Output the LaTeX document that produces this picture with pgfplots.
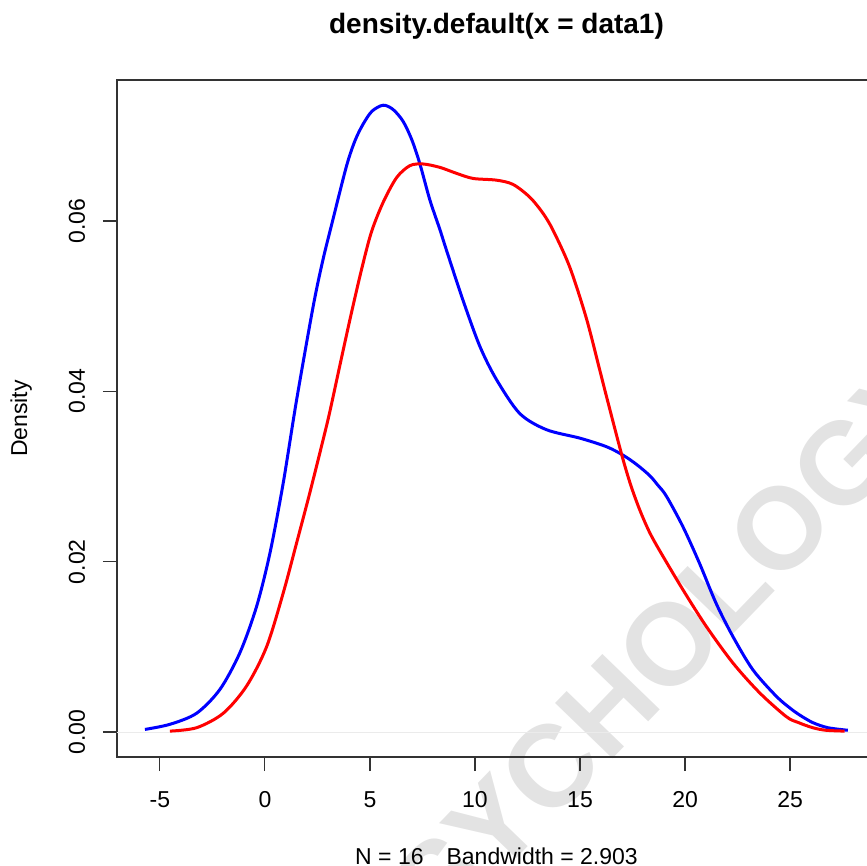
\documentclass[border=0pt]{standalone}
\usepackage{pgfplots}
\pgfplotsset{compat=1.18}
\usepackage{fontspec}
\setmainfont{Liberation Sans}
\begin{document}
\begin{tikzpicture}
% watermark (behind the plot)
\node[rotate=46, text=black!11, font=\fontsize{58}{58}\selectfont\bfseries] at (322pt,-335pt) {PSYCHOLOGY};
\begin{axis}[
  at={(58.5pt,-378.5pt)}, anchor=south west,
  scale only axis, width=379.5pt, height=338.5pt,
  xmin=-7.04, xmax=29.09, ymin=-0.00294, ymax=0.07656,
  xtick={-5,0,5,10,15,20,25}, ytick={0,0.02,0.04,0.06},
  tick align=outside, tick pos=left, major tick length=7pt,
  axis line style={black!80, line width=0.6pt},
  tick style={black!80, line width=0.6pt},
  /pgf/number format/assume math mode=true,
  tick label style={font=\fontsize{11.5}{13}\selectfont},
  scaled y ticks=false,
  xticklabel style={anchor=base, yshift=-18pt},
  yticklabel style={rotate=90, anchor=base, yshift=9pt,
    /pgf/number format/fixed, /pgf/number format/fixed zerofill,
    /pgf/number format/precision=2},
  clip=true,
]
\addplot[black!8, line width=0.3pt] coordinates {(-7.04,0) (29.09,0)};
% blue: density of data1
\addplot[blue, line width=1.5pt, smooth] coordinates {
(-5.71,0.0003) (-4.52,0.0009) (-3.25,0.0022) (-2.14,0.0050) (-1.19,0.0093)
(-0.40,0.0147) (0.24,0.0210) (0.87,0.0292) (1.51,0.0390) (2.30,0.0500)
(2.75,0.0553) (3.19,0.0597) (3.89,0.0665) (4.30,0.0695) (4.68,0.0714)
(5.10,0.0729) (5.63,0.0736) (6.10,0.0731) (6.58,0.0717) (7.00,0.0695)
(7.38,0.0667) (7.85,0.0625) (8.33,0.0590) (8.64,0.0566) (9.43,0.0507)
(10.23,0.0453) (11.02,0.0414) (12.13,0.0374) (13.40,0.0355) (15.00,0.0345)
(16.26,0.0335) (17.05,0.0325) (17.70,0.0314) (18.32,0.0301) (18.70,0.0290)
(19.11,0.0277) (19.90,0.0241) (20.69,0.0198) (21.48,0.0151) (22.28,0.0112)
(23.23,0.0073) (24.34,0.0042) (25.00,0.0028) (25.45,0.0020) (26.08,0.0011)
(26.80,0.0005) (27.75,0.0002)
};
% red: second density
\addplot[red, line width=1.5pt, smooth] coordinates {
(-4.52,0.0001) (-3.25,0.0005) (-1.98,0.0022) (-0.87,0.0054) (0.08,0.0100)
(0.87,0.0163) (1.51,0.0222) (2.14,0.0281) (2.77,0.0343) (3.09,0.0376)
(3.60,0.0434) (4.10,0.0490) (4.60,0.0543) (5.07,0.0587) (5.63,0.0622)
(6.27,0.0651) (6.90,0.0665) (7.53,0.0667) (8.33,0.0663) (9.12,0.0656)
(9.91,0.0650) (11.02,0.0648) (11.81,0.0643) (12.61,0.0628) (13.24,0.0609)
(13.72,0.0589) (14.51,0.0546) (15.30,0.0486) (15.94,0.0425) (16.26,0.0394)
(16.97,0.0327) (17.40,0.0291) (17.84,0.0261) (18.30,0.0235) (18.79,0.0213)
(19.90,0.0167) (21.01,0.0124) (22.28,0.0081) (23.55,0.0046) (24.82,0.0018)
(25.40,0.0011) (26.08,0.0005) (26.70,0.0002) (27.60,0.0001)
};
\end{axis}
\node[anchor=base, font=\fontsize{14}{16}\selectfont\bfseries] at (248.25pt,-16.7pt) {density.default(x = data1)};
\node[anchor=base, font=\fontsize{11.5}{13}\selectfont] at (248.25pt,-432pt) {N = 16\quad Bandwidth = 2.903};
\node[anchor=base, rotate=90, font=\fontsize{11.5}{13}\selectfont] at (13.5pt,-209.25pt) {Density};
\pgfresetboundingbox
\useasboundingbox (0,0) rectangle (433.5pt,-433pt);
\end{tikzpicture}
\end{document}
